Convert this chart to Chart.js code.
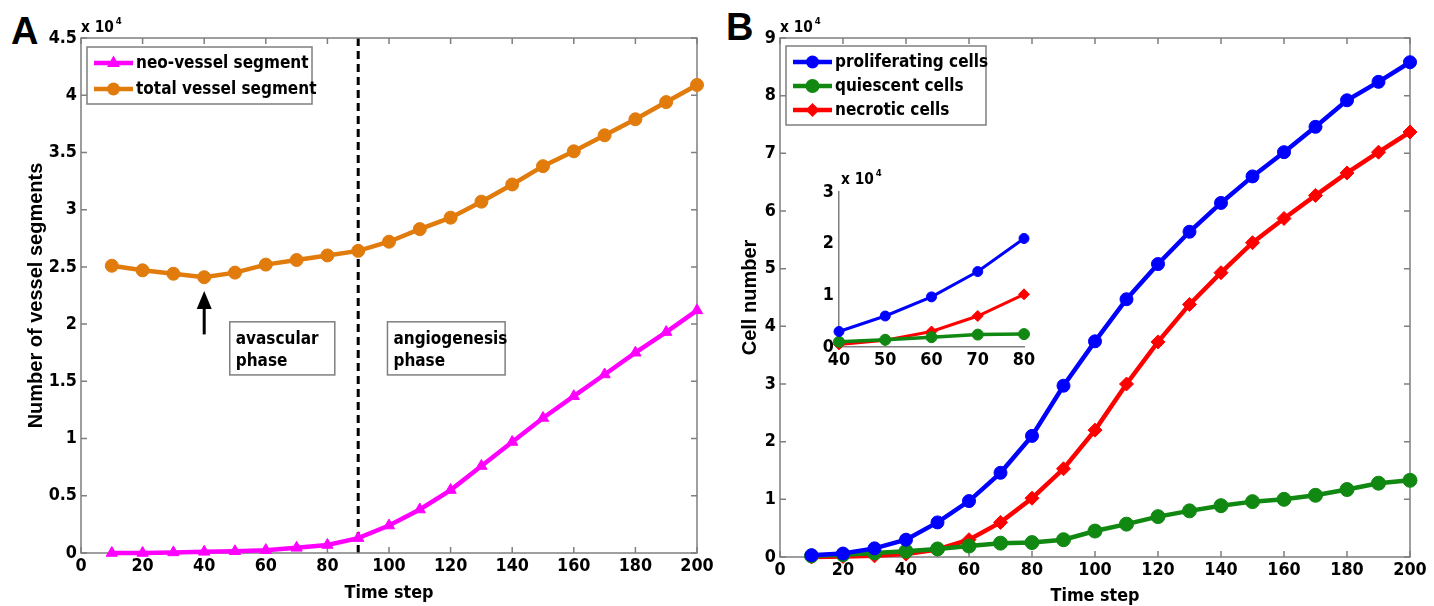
<!DOCTYPE html>
<html lang="en">
<head>
  <meta charset="UTF-8">
  <title>Vessel segments and cell numbers</title>
  <script src="https://cdn.jsdelivr.net/npm/chart.js"></script>
  <style>
    body { margin: 0; background: #fff; }
    #wrap { position: relative; width: 1434px; height: 606px; }
    canvas { position: absolute; }
    .panel { position: absolute; font: bold 38px "Liberation Sans", Arial, sans-serif; }
  </style>
</head>
<body>
  <div id="wrap">
    <div class="panel" style="left:11px; top:10px;">A</div>
    <div class="panel" style="left:726px; top:6px;">B</div>
    <canvas id="chartA" width="720" height="606" style="left:0; top:0; width:720px; height:606px;"></canvas>
    <canvas id="chartB" width="714" height="606" style="left:720px; top:0; width:714px; height:606px;"></canvas>
    <canvas id="chartInset" width="240" height="215" style="left:800px; top:160px; width:240px; height:215px;"></canvas>
  </div>

  <script>
    // values in units of 10^4
    const timeSteps = [10, 20, 30, 40, 50, 60, 70, 80, 90, 100, 110, 120, 130, 140, 150, 160, 170, 180, 190, 200];
    const neoVessel = [0.00, 0.00, 0.005, 0.01, 0.015, 0.025, 0.045, 0.07, 0.13, 0.24, 0.38, 0.55, 0.76, 0.97, 1.18, 1.37, 1.56, 1.75, 1.93, 2.12];
    const totalVessel = [2.51, 2.47, 2.44, 2.41, 2.45, 2.52, 2.56, 2.60, 2.64, 2.72, 2.83, 2.93, 3.07, 3.22, 3.38, 3.51, 3.65, 3.79, 3.94, 4.09];

    const proliferating = [0.03, 0.06, 0.15, 0.30, 0.60, 0.97, 1.46, 2.10, 2.97, 3.74, 4.47, 5.08, 5.64, 6.14, 6.60, 7.02, 7.46, 7.92, 8.24, 8.58];
    const quiescent = [0.02, 0.04, 0.07, 0.10, 0.14, 0.19, 0.24, 0.25, 0.30, 0.45, 0.57, 0.70, 0.80, 0.89, 0.96, 1.00, 1.07, 1.17, 1.28, 1.33];
    const necrotic = [0.00, 0.01, 0.02, 0.05, 0.13, 0.30, 0.60, 1.02, 1.53, 2.20, 3.00, 3.73, 4.38, 4.93, 5.45, 5.87, 6.27, 6.66, 7.02, 7.37];

    const insetSteps = [40, 50, 60, 70, 80];
    const phaseSplit = 90;

    // narrow bold font for most text (the figure is squeezed horizontally)
    function hasFont(name) {
      const c = document.createElement('canvas').getContext('2d');
      const probe = 'abcdefghijklmnop 0123456789';
      c.font = 'bold 40px monospace';
      const a = c.measureText(probe).width;
      c.font = `bold 40px "${name}", monospace`;
      return c.measureText(probe).width !== a;
    }
    let NARROW = '"Liberation Sans", Arial, sans-serif';
    let narrowScale = 0.82;
    if (hasFont('Liberation Sans Narrow')) { NARROW = '"Liberation Sans Narrow", sans-serif'; narrowScale = 1; }
    else if (hasFont('DejaVu Sans Condensed')) { NARROW = '"DejaVu Sans Condensed", sans-serif'; narrowScale = 0.85; }
    const REGULAR = '"Liberation Sans", Arial, sans-serif';
    const fs = px => Math.round(px * narrowScale * 10) / 10;

    const AXIS = '#7f7f7f';
    const colors = {
      neo: '#ff00ff', total: '#e07b0c',
      prol: '#0000ff', quie: '#118811', necr: '#ff0000'
    };

    Chart.defaults.font.family = NARROW;
    Chart.defaults.font.weight = 'bold';
    Chart.defaults.color = '#000';

    const pts = (xs, ys) => xs.map((x, i) => ({ x: x, y: ys[i] }));
    const sub = (ys) => insetSteps.map(s => ys[timeSteps.indexOf(s)]);

    function drawMarker(ctx, style, x, y, r) {
      ctx.beginPath();
      if (style === 'triangle') {
        ctx.moveTo(x, y - r * 1.15);
        ctx.lineTo(x + r, y + r * 0.6);
        ctx.lineTo(x - r, y + r * 0.6);
        ctx.closePath();
      } else if (style === 'rectRot') {
        ctx.moveTo(x, y - r); ctx.lineTo(x + r, y); ctx.lineTo(x, y + r); ctx.lineTo(x - r, y);
        ctx.closePath();
      } else {
        ctx.arc(x, y, r, 0, Math.PI * 2);
      }
      ctx.fill();
    }

    // matlab-like box with inward ticks
    const boxPlugin = {
      id: 'mbox',
      beforeDatasetsDraw(chart, args, opts) {
        if (!opts.on) return;
        const { ctx, chartArea: a, scales: { x, y } } = chart;
        ctx.save();
        ctx.strokeStyle = AXIS;
        ctx.lineWidth = 1.5;
        ctx.strokeRect(a.left, a.top, a.right - a.left, a.bottom - a.top);
        ctx.beginPath();
        x.ticks.forEach(t => {
          const p = x.getPixelForValue(t.value);
          ctx.moveTo(p, a.bottom); ctx.lineTo(p, a.bottom - 6);
          ctx.moveTo(p, a.top); ctx.lineTo(p, a.top + 6);
        });
        y.ticks.forEach(t => {
          const p = y.getPixelForValue(t.value);
          ctx.moveTo(a.left, p); ctx.lineTo(a.left + 6, p);
          ctx.moveTo(a.right, p); ctx.lineTo(a.right - 6, p);
        });
        ctx.stroke();
        ctx.restore();
      },
      afterDraw(chart, args, opts) {
        // exponent label "x 10^4"
        if (!opts.exp) return;
        const { ctx, chartArea: a } = chart;
        ctx.save();
        ctx.fillStyle = '#000';
        ctx.textBaseline = 'alphabetic';
        ctx.font = `bold ${fs(opts.exp.size)}px ${NARROW}`;
        const x0 = a.left + opts.exp.dx;
        const y0 = a.top + opts.exp.dy;
        ctx.fillText('x 10', x0, y0);
        const w = ctx.measureText('x 10').width;
        ctx.font = `bold ${fs(opts.exp.size * 0.62)}px ${NARROW}`;
        ctx.fillText('4', x0 + w + 2, y0 - opts.exp.size * 0.45);
        ctx.restore();
      }
    };

    const legendPlugin = {
      id: 'boxLegend',
      afterDraw(chart, args, opts) {
        if (!opts.box) return;
        const { ctx } = chart;
        const b = opts.box;
        ctx.save();
        ctx.fillStyle = '#fff';
        ctx.fillRect(b.x, b.y, b.w, b.h);
        ctx.strokeStyle = AXIS;
        ctx.lineWidth = 1.5;
        ctx.strokeRect(b.x, b.y, b.w, b.h);
        ctx.font = `bold ${fs(20)}px ${NARROW}`;
        ctx.textBaseline = 'middle';
        chart.data.datasets.forEach((ds, i) => {
          const cy = b.y + b.first + i * b.row;
          ctx.strokeStyle = ds.borderColor;
          ctx.fillStyle = ds.borderColor;
          ctx.lineWidth = ds.borderWidth;
          ctx.beginPath();
          ctx.moveTo(b.x + 7, cy); ctx.lineTo(b.x + 46, cy);
          ctx.stroke();
          drawMarker(ctx, ds.pointStyle, b.x + 26.5, cy, ds.pointRadius);
          ctx.fillStyle = '#000';
          ctx.fillText(ds.label, b.x + 49, cy + 1);
        });
        ctx.restore();
      }
    };

    // dashed split line, arrow and phase notes of panel A
    const phasePlugin = {
      id: 'phases',
      beforeDatasetsDraw(chart, args, opts) {
        if (!opts.on) return;
        const { ctx, chartArea: a, scales: { x } } = chart;
        const px = x.getPixelForValue(phaseSplit);
        ctx.save();
        ctx.strokeStyle = '#000';
        ctx.lineWidth = 3;
        ctx.setLineDash([8, 5]);
        ctx.beginPath();
        ctx.moveTo(px, a.top); ctx.lineTo(px, a.bottom);
        ctx.stroke();
        ctx.restore();
      },
      afterDraw(chart, args, opts) {
        if (!opts.on) return;
        const { ctx, scales: { x, y } } = chart;
        ctx.save();
        // arrow at the minimum of total vessel segments
        const ax = x.getPixelForValue(40);
        const yTip = y.getPixelForValue(2.29), yEnd = y.getPixelForValue(1.91);
        ctx.strokeStyle = '#000'; ctx.fillStyle = '#000';
        ctx.lineWidth = 3;
        ctx.beginPath();
        ctx.moveTo(ax, yEnd); ctx.lineTo(ax, yTip + 14);
        ctx.stroke();
        ctx.beginPath();
        ctx.moveTo(ax, yTip); ctx.lineTo(ax + 7.5, yTip + 18); ctx.lineTo(ax - 7.5, yTip + 18);
        ctx.closePath(); ctx.fill();

        const notes = [
          { x0: 48.3, x1: 82.4, lines: ['avascular', 'phase'] },
          { x0: 99.5, x1: 137.7, lines: ['angiogenesis', 'phase'] }
        ];
        const top = y.getPixelForValue(2.02), bot = y.getPixelForValue(1.556);
        ctx.font = `bold ${fs(20)}px ${NARROW}`;
        ctx.textBaseline = 'middle';
        notes.forEach(n => {
          const l = x.getPixelForValue(n.x0), r = x.getPixelForValue(n.x1);
          ctx.fillStyle = '#fff';
          ctx.fillRect(l, top, r - l, bot - top);
          ctx.strokeStyle = AXIS; ctx.lineWidth = 1.5;
          ctx.strokeRect(l, top, r - l, bot - top);
          ctx.fillStyle = '#000';
          ctx.fillText(n.lines[0], l + 6, top + 18);
          ctx.fillText(n.lines[1], l + 6, top + 40);
        });
        ctx.restore();
      }
    };

    function series(label, xs, ys, color, style, radius, width) {
      return {
        label: label,
        data: pts(xs, ys),
        borderColor: color,
        backgroundColor: color,
        pointBackgroundColor: color,
        pointBorderColor: color,
        pointBorderWidth: 1,
        pointStyle: style,
        pointRadius: radius,
        borderWidth: width,
        tension: 0,
        clip: false
      };
    }

    function axes(o) {
      return {
        x: {
          type: 'linear', min: o.xMin, max: o.xMax,
          grid: { display: false, drawTicks: false },
          border: o.inset ? { display: true, color: AXIS, width: 1.5 } : { display: false },
          ticks: { stepSize: o.xStep, padding: o.xPad, font: { size: fs(21), weight: 'bold' }, maxRotation: 0 },
          title: o.xTitle ? { display: true, text: o.xTitle, font: { family: NARROW, size: fs(21), weight: 'bold', lineHeight: 1 }, padding: { top: 0, bottom: o.xTitlePad } } : { display: false },
          afterFit: s => { s.height = o.xH; }
        },
        y: {
          min: o.yMin, max: o.yMax,
          grid: { display: false, drawTicks: false },
          border: o.inset ? { display: true, color: AXIS, width: 1.5 } : { display: false },
          ticks: { stepSize: o.yStep, padding: o.yPad, font: { size: fs(21), weight: 'bold' }, callback: v => String(v) },
          title: o.yTitle ? { display: true, text: o.yTitle, font: { family: REGULAR, size: 20, weight: 'bold', lineHeight: 1 }, padding: { top: o.yTitlePad, bottom: 0 } } : { display: false },
          afterFit: s => { s.width = o.yW; }
        }
      };
    }

    const common = {
      responsive: false,
      animation: false,
      events: [],
      plugins: { legend: { display: false }, tooltip: { enabled: false } }
    };

    new Chart(document.getElementById('chartA'), {
      type: 'line',
      data: {
        datasets: [
          series('neo-vessel segment', timeSteps, neoVessel, colors.neo, 'triangle', 6.5, 4.5),
          series('total vessel segment', timeSteps, totalVessel, colors.total, 'circle', 6.5, 4.5)
        ]
      },
      options: Object.assign({}, common, {
        layout: { padding: { top: 38, right: 23, left: 0, bottom: 0 } },
        scales: axes({ xMin: 0, xMax: 200, xStep: 20, xPad: 3, xH: 53, xTitle: 'Time step', xTitlePad: 4,
                       yMin: 0, yMax: 4.5, yStep: 0.5, yPad: 4, yW: 81, yTitle: 'Number of vessel segments', yTitlePad: 26 }),
        plugins: Object.assign({}, common.plugins, {
          mbox: { on: true, exp: { size: 18, dx: 0, dy: -6 } },
          boxLegend: { box: { x: 87, y: 47, w: 225, h: 57, first: 16, row: 26 } },
          phases: { on: true }
        })
      }),
      plugins: [phasePlugin, boxPlugin, legendPlugin]
    });

    new Chart(document.getElementById('chartB'), {
      type: 'line',
      data: {
        datasets: [
          series('proliferating cells', timeSteps, proliferating, colors.prol, 'circle', 6.5, 4.5),
          series('quiescent cells', timeSteps, quiescent, colors.quie, 'circle', 7, 4.5),
          series('necrotic cells', timeSteps, necrotic, colors.necr, 'rectRot', 7, 4.5)
        ]
      },
      options: Object.assign({}, common, {
        layout: { padding: { top: 38, right: 24, left: 0, bottom: 0 } },
        scales: axes({ xMin: 0, xMax: 200, xStep: 20, xPad: 3, xH: 49, xTitle: 'Time step', xTitlePad: 1,
                       yMin: 0, yMax: 9, yStep: 1, yPad: 4, yW: 60, yTitle: 'Cell number', yTitlePad: 20 }),
        plugins: Object.assign({}, common.plugins, {
          mbox: { on: true, exp: { size: 18, dx: 0, dy: -6 } },
          boxLegend: { box: { x: 66, y: 46, w: 200, h: 79, first: 16, row: 24 } }
        })
      }),
      plugins: [boxPlugin, legendPlugin]
    });

    new Chart(document.getElementById('chartInset'), {
      type: 'line',
      data: {
        datasets: [
          series('proliferating cells', insetSteps, sub(proliferating), colors.prol, 'circle', 5, 3),
          series('quiescent cells', insetSteps, sub(quiescent), colors.quie, 'circle', 5.5, 3.5),
          series('necrotic cells', insetSteps, sub(necrotic), colors.necr, 'rectRot', 5.5, 3)
        ]
      },
      options: Object.assign({}, common, {
        layout: { padding: { top: 32, right: 16, left: 0, bottom: 0 } },
        scales: axes({ inset: true, xMin: 40, xMax: 80, xStep: 10, xPad: 3, xH: 28,
                       yMin: 0, yMax: 3, yStep: 1, yPad: 5, yW: 39 }),
        plugins: Object.assign({}, common.plugins, {
          mbox: { on: false, exp: { size: 18, dx: 2, dy: -8 } }
        })
      }),
      plugins: [boxPlugin]
    });
  </script>
</body>
</html>
